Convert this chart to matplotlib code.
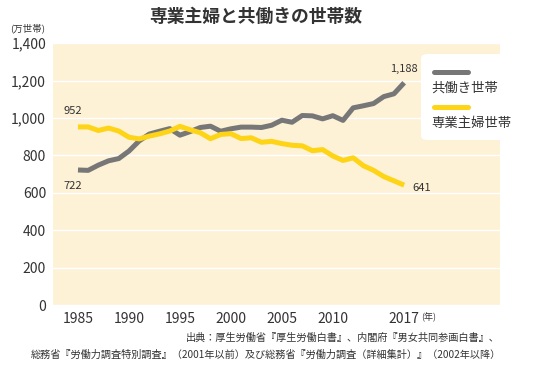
import matplotlib.pyplot as plt
from matplotlib.patches import FancyBboxPatch
from matplotlib.lines import Line2D

plt.rcParams['font.family'] = ['Noto Sans CJK JP', 'DejaVu Sans']

years = list(range(1985, 2018))
# 共働き世帯 (万世帯)
dual = [722, 720, 748, 771, 783, 823, 877, 914, 929, 943,
        908, 927, 949, 956, 929, 942, 951, 951, 949, 961,
        988, 977, 1013, 1011, 995, 1012, 987, 1054, 1065, 1077,
        1114, 1129, 1188]
# 専業主婦世帯 (万世帯)
housewife = [952, 952, 933, 946, 930, 897, 888, 903, 915, 930,
             955, 937, 921, 889, 912, 916, 890, 894, 870, 875,
             863, 854, 851, 825, 831, 797, 773, 787, 745, 720,
             687, 664, 641]
tick_years = [1985, 1990, 1995, 2000, 2005, 2010, 2017]
y_ticks = [0, 200, 400, 600, 800, 1000, 1200, 1400]

gray = '#777777'
yellow = '#FDD416'
text_c = '#333333'

fig = plt.figure(figsize=(5.58, 3.65), dpi=100)
ax = fig.add_axes([0.095, 0.164, 0.801, 0.718])
ax.set_facecolor('#FDF1D6')

ax.plot(years, dual, color=gray, lw=3.6, solid_capstyle='butt', zorder=3)
ax.plot(years, housewife, color=yellow, lw=3.6, solid_capstyle='butt', zorder=3)

ax.set_xlim(1982.55, 2026.4)
ax.set_ylim(0, 1400)
ax.set_yticks(y_ticks)
ax.set_yticklabels(['{:,}'.format(v) for v in y_ticks], fontsize=10, color=text_c)
ax.set_xticks(tick_years)
ax.set_xticklabels([str(y) for y in tick_years], fontsize=10, color=text_c)
ax.tick_params(length=0, pad=5)
ax.grid(axis='y', color='white', lw=1)
ax.set_axisbelow(True)
for s in ax.spines.values():
    s.set_visible(False)

# end labels
ax.annotate('952', (years[0], housewife[0]), xytext=(-4, 8), textcoords='offset points',
            ha='center', va='bottom', fontsize=8, color=text_c)
ax.annotate('722', (years[0], dual[0]), xytext=(-4, -8), textcoords='offset points',
            ha='center', va='top', fontsize=8, color=text_c)
ax.annotate('{:,}'.format(dual[-1]), (years[-1], dual[-1]), xytext=(0, 6), textcoords='offset points',
            ha='center', va='bottom', fontsize=8, color=text_c)
ax.annotate(str(housewife[-1]), (years[-1], housewife[-1]), xytext=(6, -2), textcoords='offset points',
            ha='left', va='center', fontsize=8, color=text_c)

ax.text(2018.7, -66, '(年)', fontsize=6.5, color=text_c, ha='left', va='center')

# legend box
box = FancyBboxPatch((421 / 558, 1 - 140 / 365), 102 / 558, 86 / 365,
                     boxstyle='round,pad=0,rounding_size=0.012',
                     transform=fig.transFigure, facecolor='white', edgecolor='none', zorder=5)
fig.patches.append(box)
fig.lines.append(Line2D([434 / 558, 468 / 558], [1 - 72 / 365] * 2, transform=fig.transFigure,
                        color=gray, lw=3.6, solid_capstyle='round', zorder=6))
fig.text(431 / 558, 1 - 88 / 365, '共働き世帯', fontsize=9.6, color=text_c, va='center', zorder=6)
fig.lines.append(Line2D([434 / 558, 468 / 558], [1 - 107 / 365] * 2, transform=fig.transFigure,
                        color=yellow, lw=3.6, solid_capstyle='round', zorder=6))
fig.text(431 / 558, 1 - 123 / 365, '専業主婦世帯', fontsize=9.6, color=text_c, va='center', zorder=6)

fig.text(256 / 558, 1 - 17 / 365, '専業主婦と共働きの世帯数', fontsize=12.8, fontweight='bold',
         color=text_c, ha='center', va='center')
fig.text(10 / 558, 1 - 28 / 365, '(万世帯)', fontsize=6.8, color=text_c, ha='left', va='center')

fig.text(500 / 558, 1 - 338 / 365, '出典：厚生労働省『厚生労働白書』、内閣府『男女共同参画白書』、',
         fontsize=7.3, color=text_c, ha='right', va='center')
fig.text(501 / 558, 1 - 355 / 365, '総務省『労働力調査特別調査』（2001年以前）及び総務省『労働力調査（詳細集計）』（2002年以降）',
         fontsize=7.3, color=text_c, ha='right', va='center')

fig.savefig('out.png', dpi=100, facecolor='white')
